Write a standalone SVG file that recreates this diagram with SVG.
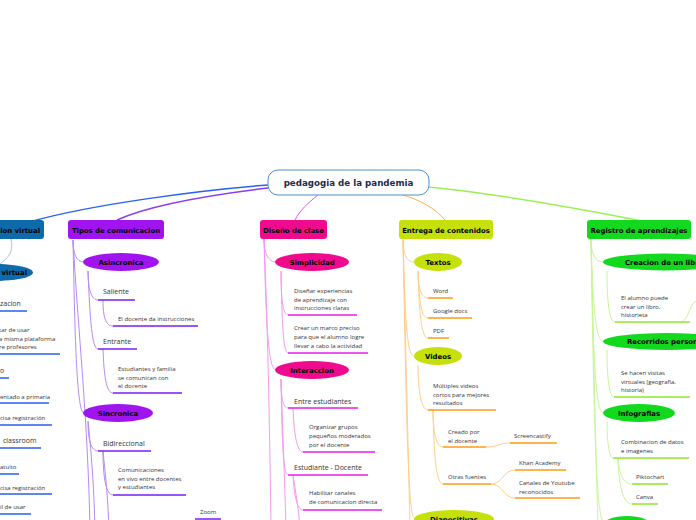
<svg xmlns="http://www.w3.org/2000/svg" width="696" height="520" viewBox="0 0 696 520">
<style>
.n{font-family:"DejaVu Sans",Verdana,sans-serif;font-weight:bold;font-size:6.9px;fill:#000}
.t{font-family:"Open Sans","DejaVu Sans",sans-serif;font-size:6px;fill:#333}
.h{font-family:"Open Sans","DejaVu Sans",sans-serif;font-size:7px;fill:#333}
.c{fill:none;stroke-width:1}
.u{fill:none;stroke-width:1.5}
.cb{stroke:#a9c0f0}.cp{stroke:#b58af5}.ck{stroke:#f59af0}.co{stroke:#ffcf8a}.cg{stroke:#c8f59a}
.ub{stroke:#2a5cf0}.up{stroke:#7a1cf5}.uk{stroke:#e81ce8}.uo{stroke:#ff9a10}.ug{stroke:#8ee82a}
</style>
<rect width="696" height="520" fill="#fff"/>
<g id="connectors">
<path d="M268 185 C200 190 90 205 33 221" fill="none" stroke="#2a62f0" stroke-width="1.5"/>
<path d="M268 188 C210 195 150 205 117 220" fill="none" stroke="#8a3cf0" stroke-width="1.5"/>
<path d="M318 195 C308 203 300 210 295 220" fill="none" stroke="#f050f0" stroke-width="1"/>
<path d="M400 194 C420 200 435 208 445 220" fill="none" stroke="#ffb050" stroke-width="1"/>
<path d="M429 187 C480 192 560 205 642 221" fill="none" stroke="#9af050" stroke-width="1.5"/>
<path class="c cb" d="M11 239 C14 252 8 258 0 264"/>
<!-- purple -->
<path class="c cp" d="M73 240 C73 253 76 262 84 262"/>
<path class="c cp" d="M73 240 C75 344 77 413 84 413"/>
<path class="c cp" d="M73 240 C78 330 88 420 90 530"/>
<path class="c cp" d="M88 271 C88 288 91 300 98 300"/>
<path class="c cp" d="M88 271 C90 320 92 349 98 349"/>
<path class="c cp" d="M103 300 C103 318 106 326 113 326"/>
<path class="c cp" d="M103 349 C104 375 106 393 113 393"/>
<path class="c cp" d="M88 421 C88 440 91 451 98 451"/>
<path class="c cp" d="M88 421 C92 460 94 490 95 530"/>
<path class="c cp" d="M103 451 C103 478 106 495 113 495"/>
<path class="c cp" d="M103 451 C106 480 108 500 109 530"/>
<!-- pink -->
<path class="c ck" d="M264 239 C264 253 268 262 276 262"/>
<path class="c ck" d="M264 239 C266 320 268 370 276 370"/>
<path class="c ck" d="M264 239 C268 330 270 450 271 530"/>
<path class="c ck" d="M281 271 C281 300 283 315 288 315"/>
<path class="c ck" d="M281 271 C282 320 283 353 288 353"/>
<path class="c ck" d="M281 379 C281 398 283 408 288 408"/>
<path class="c ck" d="M281 379 C282 440 283 475 288 475"/>
<path class="c ck" d="M281 379 C283 440 285 490 286 530"/>
<path class="c ck" d="M293 408 C294 435 297 452 303 452"/>
<path class="c ck" d="M293 475 C294 495 297 510 303 510"/>
<path class="c ck" d="M293 475 C296 495 299 510 300 530"/>
<!-- orange -->
<path class="c co" d="M403 239 C403 253 406 262 414 262"/>
<path class="c co" d="M403 239 C405 320 407 356 414 356"/>
<path class="c co" d="M403 239 C406 400 408 517 414 517"/>
<path class="c co" d="M403 239 C407 400 409 480 410 530"/>
<path class="c co" d="M418 271 C418 288 421 298 428 298"/>
<path class="c co" d="M418 271 C419 300 421 318 428 318"/>
<path class="c co" d="M418 271 C419 310 421 338 428 338"/>
<path class="c co" d="M418 365 C418 390 421 410 428 410"/>
<path class="c co" d="M433 410 C433 432 436 447 443 447"/>
<path class="c co" d="M433 410 C434 455 436 484 443 484"/>
<path class="c co" d="M486 447 C498 447 498 443 510 443"/>
<path class="c co" d="M491 484 C503 484 503 470 515 470"/>
<path class="c co" d="M491 484 C503 484 503 498 515 498"/>
<!-- green -->
<path class="c cg" d="M591 239 C591 253 595 262 603 262"/>
<path class="c cg" d="M591 239 C593 310 596 341 603 341"/>
<path class="c cg" d="M591 239 C593 360 596 413 603 413"/>
<path class="c cg" d="M591 239 C594 420 596 522 604 522"/>
<path class="c cg" d="M591 239 C595 420 597 490 598 530"/>
<path class="c cg" d="M607 271 C607 300 609 322 615 322"/>
<path class="c cg" d="M680 322 C690 322 688 300 700 300"/>
<path class="c cg" d="M607 350 C607 375 609 397 614 397"/>
<path class="c cg" d="M607 422 C607 440 609 458 613 458"/>
<path class="c cg" d="M618 458 C619 475 624 484 632 484"/>
<path class="c cg" d="M618 458 C619 490 624 504 632 504"/>
</g>
<g id="root">
<rect x="268" y="170" width="161" height="25" rx="10" fill="#fff" stroke="#4a90d0" stroke-width="1"/>
<text x="348.5" y="185.8" text-anchor="middle" font-family="DejaVu Sans,Verdana,sans-serif" font-weight="bold" font-size="8.7" fill="#1e2b50">pedagogia de la pandemia</text>
</g>
<g id="n-virtual">
<rect x="-10" y="220" width="54" height="19" rx="3" fill="#0d6aab"/>
<text class="n" x="40" y="232.5" text-anchor="end">cion virtual</text>
<ellipse cx="-5" cy="272.5" rx="38" ry="8.5" fill="#0d6aab"/>
<text class="n" x="27" y="275" text-anchor="end">virtual</text>
<text class="h" x="0" y="305.5">zacion</text><path class="u ub" d="M0 311 H27"/>
<text class="t" x="-1" y="332">tar de usar</text><text class="t" x="-1" y="340.5">a misma plataforma</text><text class="t" x="-1" y="349">re profesores</text><path class="u ub" d="M0 354 H60"/>
<text class="h" x="0" y="373">o</text><path class="u ub" d="M0 378 H9"/>
<text class="t" x="0" y="399">entado a primaria</text><path class="u ub" d="M0 403 H49"/>
<text class="t" x="0" y="420">cisa registración</text><path class="u ub" d="M0 425 H52"/>
<text class="h" x="3" y="443">classroom</text><path class="u ub" d="M0 448 H41"/>
<text class="t" x="0" y="469">atuito</text><path class="u ub" d="M0 474 H19"/>
<text class="t" x="0" y="490">cisa registración</text><path class="u ub" d="M0 494 H52"/>
<text class="t" x="0" y="509">il de usar</text><path class="u ub" d="M0 514 H31"/>
</g>
<g id="n-tipos">
<rect x="68" y="220" width="96" height="19" rx="3" fill="#a014f0"/>
<text class="n" x="116" y="232.5" text-anchor="middle">Tipos de comunicacion</text>
<ellipse cx="121" cy="262" rx="38" ry="9" fill="#a014f0"/>
<text class="n" x="121" y="264.5" text-anchor="middle">Asincronica</text>
<text class="h" x="103" y="294">Saliente</text><path class="u up" d="M98 300 H135"/>
<text class="t" x="118" y="321">El docente da instrucciones</text><path class="u up" d="M113 326 H198"/>
<text class="h" x="103" y="344">Entrante</text><path class="u up" d="M98 349 H137"/>
<text class="t" x="118" y="371">Estudiantes y familia</text><text class="t" x="118" y="379.5">se comunican con</text><text class="t" x="118" y="388">el docente</text><path class="u up" d="M113 393 H182"/>
<ellipse cx="118" cy="413" rx="35" ry="9" fill="#a014f0"/>
<text class="n" x="118" y="415.5" text-anchor="middle">Sincronica</text>
<text class="h" x="103" y="446">Bidireccional</text><path class="u up" d="M98 451 H151"/>
<text class="t" x="118" y="472">Comunicaciones</text><text class="t" x="118" y="480.5">en vivo entre docentes</text><text class="t" x="118" y="489">y estudiantes</text><path class="u up" d="M113 495 H186"/>
<text class="t" x="200" y="514">Zoom</text><path class="u up" d="M195 519 H221"/>
</g>
<g id="n-diseno">
<rect x="260" y="220" width="67" height="19" rx="3" fill="#ef0a8e"/>
<text class="n" x="293.5" y="232.5" text-anchor="middle">Diseño de clase</text>
<ellipse cx="312" cy="262" rx="37" ry="9" fill="#ef0a8e"/>
<text class="n" x="312" y="264.5" text-anchor="middle">Simplicidad</text>
<text class="t" x="294" y="293">Diseñar experiencias</text><text class="t" x="294" y="301.5">de aprendizaje con</text><text class="t" x="294" y="310">instrucciones claras</text><path class="u uk" d="M288 315 H357"/>
<text class="t" x="294" y="330">Crear un marco preciso</text><text class="t" x="294" y="339">para que el alumno logre</text><text class="t" x="294" y="347.5">llevar a cabo la actividad</text><path class="u uk" d="M288 353 H368"/>
<ellipse cx="312" cy="370" rx="37" ry="9" fill="#ef0a8e"/>
<text class="n" x="312" y="372.5" text-anchor="middle">Interaccion</text>
<text class="h" x="294" y="403.5">Entre estudiantes</text><path class="u uk" d="M288 408 H358"/>
<text class="t" x="309" y="429">Organizar grupos</text><text class="t" x="309" y="438">pequeños moderados</text><text class="t" x="309" y="446.5">por  el docente</text><path class="u uk" d="M303 452 H375"/>
<text class="h" x="294" y="469.5">Estudiante - Docente</text><path class="u uk" d="M288 475 H368"/>
<text class="t" x="309" y="495">Habilitar canales</text><text class="t" x="309" y="504">de comunicacion directa</text><path class="u uk" d="M303 510 H382"/>
</g>
<g id="n-entrega">
<rect x="399" y="220" width="94" height="19" rx="3" fill="#c6e00c"/>
<text class="n" x="446" y="232.5" text-anchor="middle">Entrega de contenidos</text>
<ellipse cx="438" cy="262" rx="24" ry="9" fill="#c6e00c"/>
<text class="n" x="438" y="264.5" text-anchor="middle">Textos</text>
<text class="t" x="433" y="293">Word</text><path class="u uo" d="M428 298 H453"/>
<text class="t" x="433" y="313">Google docs</text><path class="u uo" d="M428 318 H472"/>
<text class="t" x="433" y="333">PDF</text><path class="u uo" d="M428 338 H449"/>
<ellipse cx="438" cy="356" rx="24" ry="9" fill="#c6e00c"/>
<text class="n" x="438" y="358.5" text-anchor="middle">Videos</text>
<text class="t" x="433" y="388">Múltiples videos</text><text class="t" x="433" y="396.5">cortos para mejores</text><text class="t" x="433" y="405">resultados</text><path class="u uo" d="M428 410 H496"/>
<text class="t" x="448" y="434">Creado por</text><text class="t" x="448" y="442.5">el docente</text><path class="u uo" d="M443 447 H486"/>
<text class="t" x="514" y="438">Screencastify</text><path class="u uo" d="M510 443 H557"/>
<text class="t" x="448" y="479">Otras fuentes</text><path class="u uo" d="M443 484 H491"/>
<text class="t" x="519" y="465">Khan Academy</text><path class="u uo" d="M515 470 H566"/>
<text class="t" x="519" y="485">Canales de Youtube</text><text class="t" x="519" y="493.5">reconocidos</text><path class="u uo" d="M515 498 H580"/>
<ellipse cx="454" cy="519" rx="40" ry="9" fill="#c6e00c"/>
<text class="n" x="454" y="522" text-anchor="middle">Diapositivas</text>
</g>
<g id="n-registro">
<rect x="587" y="220" width="104" height="19" rx="3" fill="#12d81e"/>
<text class="n" x="639" y="232.5" text-anchor="middle">Registro de aprendizajes</text>
<ellipse cx="665" cy="262" rx="62" ry="8.5" fill="#12d81e"/>
<text class="n" x="625" y="264.5">Creacion de un libro</text>
<text class="t" x="621" y="300">El alumno puede</text><text class="t" x="621" y="308.5">crear un libro,</text><text class="t" x="621" y="317">historieta</text><path class="u ug" d="M615 322 H690"/>
<ellipse cx="667" cy="341.5" rx="64" ry="8.5" fill="#12d81e"/>
<text class="n" x="627" y="344">Recorridos personales</text>
<text class="t" x="621" y="375">Se hacen visitas</text><text class="t" x="621" y="384">virtuales (geografía,</text><text class="t" x="621" y="392">historia)</text><path class="u ug" d="M614 397 H690"/>
<ellipse cx="639" cy="413" rx="36" ry="9" fill="#12d81e"/>
<text class="n" x="639" y="415.5" text-anchor="middle">Infografias</text>
<text class="t" x="621" y="444">Combinacion de datos</text><text class="t" x="621" y="453">e imagenes</text><path class="u ug" d="M613 458 H689"/>
<text class="t" x="636" y="479">Piktochart</text><path class="u ug" d="M632 484 H668"/>
<text class="t" x="636" y="499">Canva</text><path class="u ug" d="M632 504 H658"/>
<ellipse cx="627" cy="525" rx="24" ry="9" fill="#12d81e"/>
</g>
</svg>
